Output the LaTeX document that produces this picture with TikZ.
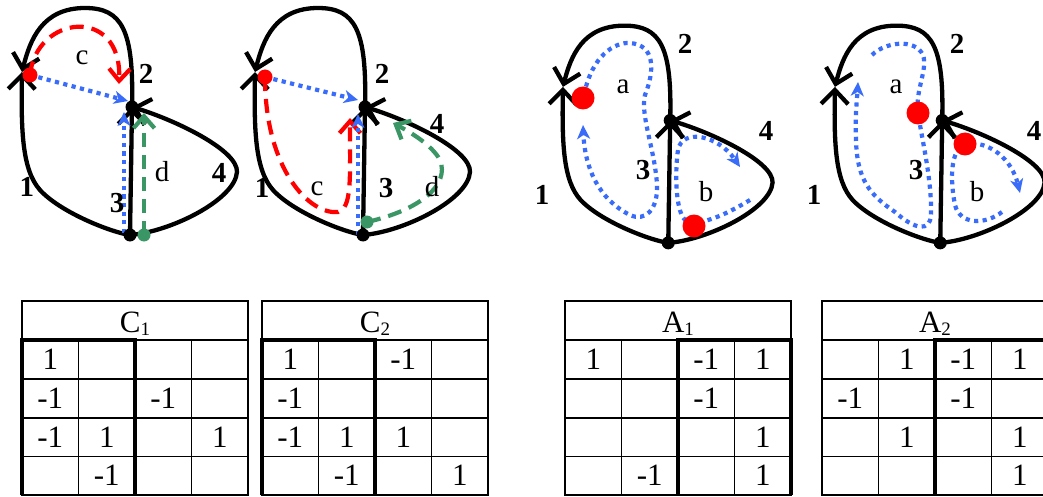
\documentclass[tikz,border=0pt]{standalone}
\usepackage{fontspec}
\setmainfont{Liberation Serif}
\usetikzlibrary{arrows.meta}

\definecolor{pathred}{RGB}{255,0,0}
\definecolor{pathblue}{RGB}{58,108,250}
\definecolor{pathgreen}{RGB}{58,150,100}

\tikzset{
  gedge/.style={line width=4.3pt, -{Straight Barb[length=14pt,width=27pt]}},
  vertex/.style={circle, fill=black, inner sep=0pt, minimum size=13pt},
  reddot/.style={circle, fill=pathred, inner sep=0pt, minimum size=15pt},
  bigreddot/.style={circle, fill=pathred, inner sep=0pt, minimum size=23pt},
  greendot/.style={circle, fill=pathgreen, inner sep=0pt, minimum size=13pt},
  redtrail/.style={draw=pathred, line width=4.2pt, dash pattern=on 14pt off 8pt,
    -{Straight Barb[length=12pt,width=21pt]}},
  greentrail/.style={draw=pathgreen, line width=4.2pt, dash pattern=on 14pt off 8pt,
    -{Straight Barb[length=12pt,width=21pt]}},
  bluetrail/.style={draw=pathblue, line width=4.2pt, dash pattern=on 4.2pt off 4.4pt,
    -{Stealth[length=14pt,width=13pt,inset=4pt]}},
  edgelabel/.style={font=\fontsize{29}{29}\selectfont\bfseries, inner sep=0pt},
  looplabel/.style={font=\fontsize{29}{29}\selectfont, inner sep=0pt},
  tabthin/.style={line width=1.8pt},
  tabthick/.style={line width=4.5pt},
  tabtext/.style={font=\fontsize{31}{31}\selectfont, inner sep=0pt},
}

% the graph: vertices L (left), T (top of the chord), B (bottom); edges 1..4
\newcommand\loopgraph[1]{%
  \coordinate (#1L) at (22,72);
  \coordinate (#1T) at (132,107);
  \coordinate (#1B) at (130,235);
  \draw[gedge] (#1B) .. controls (110,232) and (60,212) .. (40,190)
                     .. controls (22,170) and (21,130) .. (#1L);
  \draw[gedge] (#1T) .. controls (134,30) and (122,8) .. (85,8)
                     .. controls (42,8) and (30,40) .. (#1L);
  \draw[gedge] (#1B) -- (#1T);
  \draw[gedge] (#1B) .. controls (170,232) and (235,200) .. (237,172)
                     .. controls (238,150) and (175,120) .. (#1T);
}
\newcommand\graphdots[1]{%
  \node[vertex] (#1Tdot) at (#1T) {};
  \node[vertex] (#1Bdot) at (#1B) {};
}

% 4x4 table with a title row; #4 = first column of the bold 2-column block
\newcommand\matrixtable[5]{%
  \begin{scope}[shift={(#2,0)}]
    \draw[tabthin] (0,301) rectangle (226,340);
    \node[tabtext, anchor=base] (#1-title) at (113,332) {#3};
    \foreach \k in {1,2,3} \draw[tabthin] (56.5*\k,340) -- (56.5*\k,495);
    \foreach \yy in {379,418,456.5} \draw[tabthin] (0,\yy) -- (226,\yy);
    \draw[tabthin] (0,340) rectangle (226,495);
    \draw[tabthick] (56.5*#4,495) -- (56.5*#4,340) -- (56.5*#4+113,340) -- (56.5*#4+113,495);
    \foreach \c/\r/\t in {#5}
      \node[tabtext] (#1-\r-\c) at (56.5*\c-28.25, 340+38.75*\r-19.375) {\t};
  \end{scope}}
\newcommand\subone[1]{\raisebox{-3pt}{\fontsize{19}{19}\selectfont #1}}

\begin{document}
\begin{tikzpicture}[x=1pt,y=-1pt]
\fill[white] (0,0) rectangle (1043,497);
\useasboundingbox (0,0) rectangle (1043,497);

% ---------- graphs ----------
\loopgraph{p1}
\begin{scope}[shift={(233,0)}]\loopgraph{p2}\end{scope}
\begin{scope}[shift={(541.5,18)}, xscale=0.975, yscale=0.957]\loopgraph{p3}\end{scope}
\begin{scope}[shift={(813.5,18)}, xscale=0.975, yscale=0.957]\loopgraph{p4}\end{scope}

% ---------- panel 1: cycles c and d ----------
\coordinate (p1R) at (30,75);
\coordinate (p1G) at (144,235);
\coordinate (p1rt) at (119,84);
\coordinate (p1bt) at (128,101);
\coordinate (p1bs) at (124,233);
\coordinate (p1bv) at (124,112);
\coordinate (p1gt) at (144,113);
\draw[redtrail] (p1R) .. controls (36,15) and (122,5) .. (p1rt);
\draw[bluetrail] (p1R) -- (p1bt);
\draw[bluetrail] (p1bs) -- (p1bv);
\draw[greentrail] (p1G) -- (p1gt);

% ---------- panel 2 ----------
\coordinate (p2R) at (265,77);
\coordinate (p2G) at (367,222);
\coordinate (p2rt) at (350,118);
\coordinate (p2bt) at (358,100);
\coordinate (p2bs) at (358,235);
\coordinate (p2bv) at (358,114);
\coordinate (p2gt) at (393,123);
\draw[redtrail] (p2R) .. controls (265,170) and (310,215) .. (338,212)
                      .. controls (352,208) and (350,180) .. (p2rt);
\draw[bluetrail] (p2R) -- (p2bt);
\draw[bluetrail] (p2bs) -- (p2bv);
\draw[greentrail] (p2G) .. controls (420,210) and (450,185) .. (440,160)
                        .. controls (432,145) and (410,132) .. (p2gt);

% ---------- panel 3: faces a and b ----------
\coordinate (p3Ra) at (583,98);
\coordinate (p3Rb) at (694,226);
\coordinate (p3as) at (584,95);
\coordinate (p3at) at (583,125);
\coordinate (p3bs) at (750,200);
\coordinate (p3bt) at (740,167);
\draw[bluetrail] (p3as) .. controls (592,55) and (615,42) .. (630,43)
                        .. controls (655,45) and (655,70) .. (645,95)
                        .. controls (640,115) and (655,150) .. (657,185)
                        .. controls (658,210) and (645,222) .. (630,215)
                        .. controls (600,200) and (585,170) .. (p3at);
\draw[bluetrail] (p3bs) .. controls (730,212) and (700,228) .. (685,220)
                        .. controls (675,210) and (675,170) .. (678,150)
                        .. controls (682,128) and (718,135) .. (p3bt);

% ---------- panel 4 ----------
\coordinate (p4Ra) at (918,113);
\coordinate (p4Rb) at (965,144);
\coordinate (p4as) at (872,55);
\coordinate (p4at) at (858,82);
\coordinate (p4bs) at (1002,212);
\coordinate (p4bt) at (1020,193);
\draw[bluetrail] (p4as) .. controls (885,42) and (915,38) .. (923,55)
                        .. controls (928,70) and (915,90) .. (p4Ra)
                        .. controls (922,140) and (932,180) .. (931,215)
                        .. controls (930,232) and (915,230) .. (895,212)
                        .. controls (870,195) and (857,180) .. (856,140)
                        .. controls (855,115) and (857,100) .. (p4at);
\draw[bluetrail] (p4bs) .. controls (985,225) and (960,225) .. (955,205)
                        .. controls (950,180) and (950,150) .. (p4Rb)
                        .. controls (990,140) and (1012,160) .. (p4bt);

% ---------- dots ----------
\graphdots{p1}\graphdots{p2}\graphdots{p3}\graphdots{p4}
\node[reddot] (p1Rdot) at (p1R) {};
\node[greendot] (p1Gdot) at (p1G) {};
\node[reddot] (p2Rdot) at (p2R) {};
\node[greendot] (p2Gdot) at (p2G) {};
\node[bigreddot] (p3Radot) at (p3Ra) {};
\node[bigreddot] (p3Rbdot) at (p3Rb) {};
\node[bigreddot] (p4Radot) at (p4Ra) {};
\node[bigreddot] (p4Rbdot) at (p4Rb) {};

% ---------- labels ----------
\node[edgelabel] (p1e1) at (27,187) {1};
\node[edgelabel] (p1e2) at (146,74) {2};
\node[edgelabel] (p1e3) at (117,203) {3};
\node[edgelabel] (p1e4) at (219,173) {4};
\node[looplabel] (p1c) at (82,58) {c};
\node[looplabel] (p1d) at (162,172) {d};

\node[edgelabel] (p2e1) at (262,188) {1};
\node[edgelabel] (p2e2) at (382,74) {2};
\node[edgelabel] (p2e3) at (386,188) {3};
\node[edgelabel] (p2e4) at (437,124) {4};
\node[looplabel] (p2c) at (317,189) {c};
\node[looplabel] (p2d) at (432,187) {d};

\node[edgelabel] (p3e1) at (542,195) {1};
\node[edgelabel] (p3e2) at (685,44) {2};
\node[edgelabel] (p3e3) at (643,170) {3};
\node[edgelabel] (p3e4) at (766,131) {4};
\node[looplabel] (p3a) at (623,87) {a};
\node[looplabel] (p3b) at (706,192) {b};

\node[edgelabel] (p4e1) at (814,195) {1};
\node[edgelabel] (p4e2) at (957,44) {2};
\node[edgelabel] (p4e3) at (916,170) {3};
\node[edgelabel] (p4e4) at (1034,131) {4};
\node[looplabel] (p4a) at (896,87) {a};
\node[looplabel] (p4b) at (977,192) {b};

% ---------- tables ----------
\matrixtable{C1}{22}{C\subone{1}}{0}{1/1/1, 1/2/-1, 3/2/-1, 1/3/-1, 2/3/1, 4/3/1, 2/4/-1}
\matrixtable{C2}{262}{C\subone{2}}{0}{1/1/1, 3/1/-1, 1/2/-1, 1/3/-1, 2/3/1, 3/3/1, 2/4/-1, 4/4/1}
\matrixtable{A1}{565}{A\subone{1}}{2}{1/1/1, 3/1/-1, 4/1/1, 3/2/-1, 4/3/1, 2/4/-1, 4/4/1}
\matrixtable{A2}{822}{A\subone{2}}{2}{2/1/1, 3/1/-1, 4/1/1, 1/2/-1, 3/2/-1, 2/3/1, 4/3/1, 4/4/1}
\end{tikzpicture}
\end{document}
